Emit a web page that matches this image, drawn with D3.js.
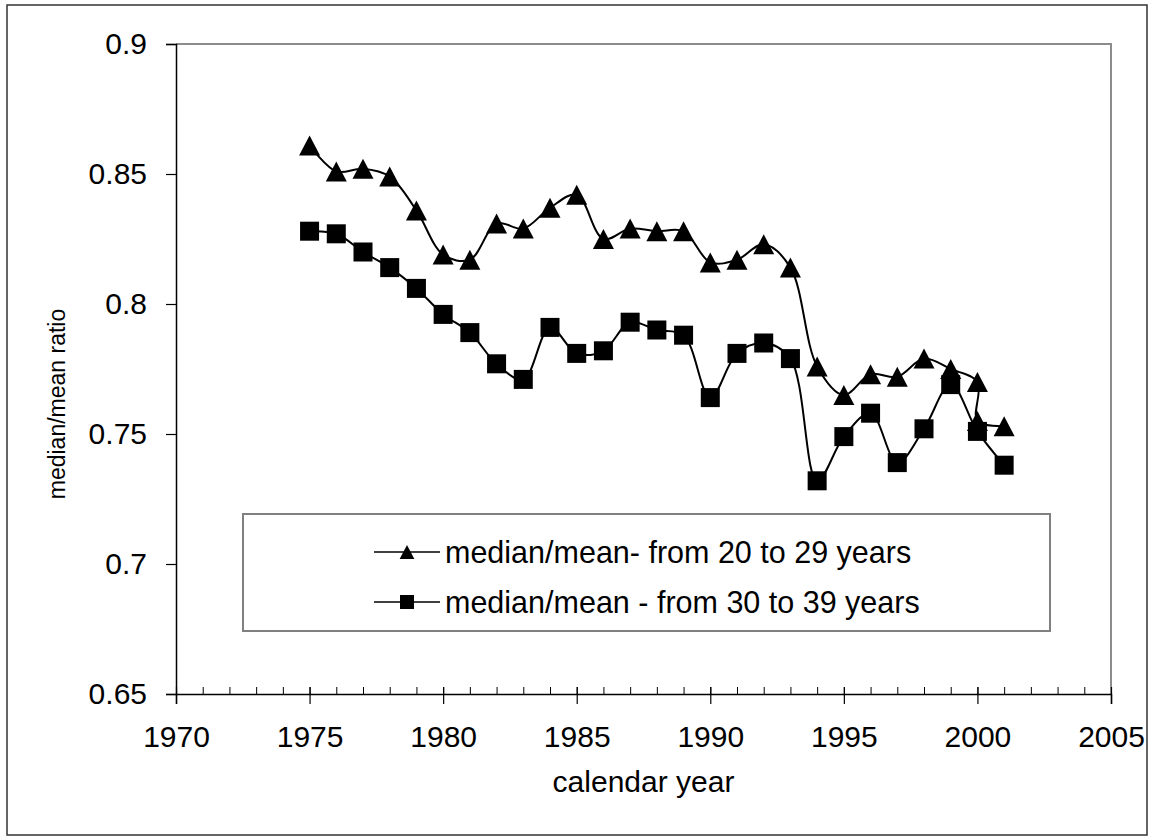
<!DOCTYPE html>
<html>
<head>
<meta charset="utf-8">
<script src="https://cdn.jsdelivr.net/npm/d3@7"></script>
<style>
  body { margin: 0; background: #fff; }
  text { font-family: "Liberation Sans", Arial, sans-serif; fill: #000; }
</style>
</head>
<body>
<svg id="chart"></svg>
<script>
// data
var years20 = [1975, 1976, 1977, 1978, 1979, 1980, 1981, 1982, 1983, 1984, 1985, 1986, 1987, 1988,
               1989, 1990, 1991, 1992, 1993, 1994, 1995, 1996, 1997, 1998, 1999, 2000, 2000, 2001];
var ratio20 = [0.861, 0.851, 0.852, 0.849, 0.836, 0.819, 0.817, 0.831, 0.829, 0.837, 0.842, 0.825, 0.829, 0.828,
               0.828, 0.816, 0.817, 0.823, 0.814, 0.776, 0.765, 0.773, 0.772, 0.779, 0.775, 0.770, 0.755, 0.753];
var years30 = [1975, 1976, 1977, 1978, 1979, 1980, 1981, 1982, 1983, 1984, 1985, 1986, 1987, 1988,
               1989, 1990, 1991, 1992, 1993, 1994, 1995, 1996, 1997, 1998, 1999, 2000, 2001];
var ratio30 = [0.828, 0.827, 0.820, 0.814, 0.806, 0.796, 0.789, 0.777, 0.771, 0.791, 0.781, 0.782, 0.793, 0.790,
               0.788, 0.764, 0.781, 0.785, 0.779, 0.732, 0.749, 0.758, 0.739, 0.752, 0.769, 0.751, 0.738];
var seriesNames = ["median/mean- from 20 to 29 years", "median/mean - from 30 to 39 years"];
var xTicks = [1970, 1975, 1980, 1985, 1990, 1995, 2000, 2005];
var yTicks = [0.65, 0.7, 0.75, 0.8, 0.85, 0.9];

// set the dimensions and margins of the graph
var W = 1150, H = 839;
var margin = {top: 44, right: 39, bottom: 145, left: 176},
    width = W - margin.left - margin.right,
    height = H - margin.top - margin.bottom;

var root = d3.select("#chart")
    .attr("width", W)
    .attr("height", H);

root.append("rect")
  .attr("x", 0).attr("y", 0).attr("width", W).attr("height", H)
  .attr("fill", "#fff");

// outer frame
root.append("rect")
  .attr("x", 7).attr("y", 5).attr("width", 1140).attr("height", 830)
  .attr("fill", "none").attr("stroke", "#333").attr("stroke-width", 1.5);

var svg = root.append("g")
    .attr("transform", "translate(" + margin.left + "," + margin.top + ")");

var x = d3.scaleLinear().domain([1970, 2005]).range([0, width]);
var y = d3.scaleLinear().domain([0.65, 0.9]).range([height, 0]);

// plot area border (top / right in gray)
svg.append("path")
  .attr("d", "M0,0H" + width + "V" + height)
  .attr("fill", "none").attr("stroke", "#8c8c8c").attr("stroke-width", 2);

// Y axis
var yAxis = svg.append("g")
  .call(d3.axisLeft(y).tickValues(yTicks).tickSize(10).tickPadding(19)
        .tickFormat(function(d) { return String(+d.toFixed(2)); }));
yAxis.select(".domain").attr("stroke", "#000").attr("stroke-width", 1.5);
yAxis.selectAll(".tick line").attr("stroke", "#000").attr("stroke-width", 1.2);
yAxis.selectAll("text").attr("font-size", 30).attr("font-family", "Liberation Sans, Arial");

// X axis minor ticks (inside)
var xMinor = svg.append("g")
  .attr("transform", "translate(0," + height + ")")
  .call(d3.axisTop(x).tickValues(d3.range(1971, 2005)).tickSize(7).tickFormat(""));
xMinor.select(".domain").remove();
xMinor.selectAll(".tick line").attr("stroke", "#000").attr("stroke-width", 1);

// X axis major ticks (crossing)
var xAxis = svg.append("g")
  .attr("transform", "translate(0," + height + ")")
  .call(d3.axisBottom(x).tickValues(xTicks).tickSize(10).tickPadding(22).tickFormat(d3.format("d")));
xAxis.select(".domain").attr("stroke", "#000").attr("stroke-width", 1.5);
xAxis.selectAll(".tick line").attr("y1", -7).attr("stroke", "#000").attr("stroke-width", 1.2);
xAxis.selectAll("text").attr("font-size", 30).attr("font-family", "Liberation Sans, Arial");

// axis titles
svg.append("text")
  .attr("text-anchor", "middle")
  .attr("x", width / 2)
  .attr("y", height + 98)
  .attr("font-size", 30)
  .text("calendar year");

svg.append("text")
  .attr("text-anchor", "middle")
  .attr("transform", "translate(" + (-111) + "," + 360 + ") rotate(-90)")
  .attr("font-size", 23)
  .text("median/mean ratio");

// series
var d20 = years20.map(function(d, i) { return {year: d, v: ratio20[i]}; });
var d30 = years30.map(function(d, i) { return {year: d, v: ratio30[i]}; });

var line = d3.line()
  .x(function(d) { return x(d.year); })
  .y(function(d) { return y(d.v); })
  .curve(d3.curveCatmullRom.alpha(0.5));

function triPath(s) {
  return "M0," + (-s) + "L" + (s * 1.05) + "," + s + "L" + (-s * 1.05) + "," + s + "Z";
}

svg.append("path").datum(d20)
  .attr("d", line).attr("fill", "none").attr("stroke", "#000").attr("stroke-width", 2);
svg.append("path").datum(d30)
  .attr("d", line).attr("fill", "none").attr("stroke", "#000").attr("stroke-width", 2);

svg.selectAll(".sq").data(d30).enter().append("rect")
  .attr("class", "sq")
  .attr("x", function(d) { return x(d.year) - 9.5; })
  .attr("y", function(d) { return y(d.v) - 9.5; })
  .attr("width", 19).attr("height", 19)
  .attr("fill", "#000");

svg.selectAll(".tri").data(d20).enter().append("path")
  .attr("class", "tri")
  .attr("transform", function(d) { return "translate(" + x(d.year) + "," + y(d.v) + ")"; })
  .attr("d", triPath(10))
  .attr("fill", "#000");

// legend
var legend = root.append("g").attr("transform", "translate(243,514)");
legend.append("rect")
  .attr("width", 807).attr("height", 117)
  .attr("fill", "#fff").attr("stroke", "#808080").attr("stroke-width", 2);

var rows = legend.selectAll(".row").data(seriesNames).enter().append("g")
  .attr("class", "row")
  .attr("transform", function(d, i) { return "translate(0," + (38 + i * 50) + ")"; });
rows.append("line")
  .attr("x1", 131).attr("x2", 197).attr("y1", 0).attr("y2", 0)
  .attr("stroke", "#000").attr("stroke-width", 1.5);
rows.each(function(d, i) {
  var g = d3.select(this);
  if (i === 0) {
    g.append("path").attr("transform", "translate(164,0)").attr("d", triPath(7)).attr("fill", "#000");
  } else {
    g.append("rect").attr("x", 157).attr("y", -7).attr("width", 14).attr("height", 14).attr("fill", "#000");
  }
});
rows.append("text")
  .attr("x", 202).attr("y", 0).attr("dy", "0.35em")
  .attr("font-size", 30.5)
  .text(function(d) { return d; });
</script>
</body>
</html>
